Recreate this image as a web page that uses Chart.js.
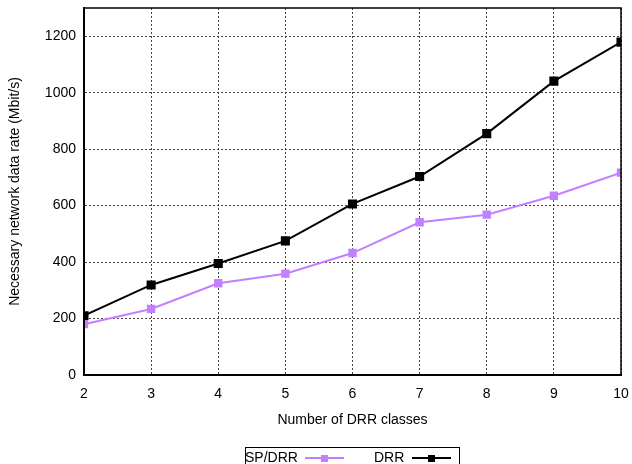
<!DOCTYPE html>
<html>
<head>
<meta charset="utf-8">
<script src="https://cdn.jsdelivr.net/npm/chart.js@4.4.1/dist/chart.umd.min.js"></script>
<style>
  html, body { margin: 0; padding: 0; background: #fff; }
  #wrap { width: 632px; height: 464px; }
</style>
</head>
<body>
<div id="wrap"><canvas id="chart" width="632" height="464"></canvas></div>
<script>
    // number of DRR classes
    const classes = [2, 3, 4, 5, 6, 7, 8, 9, 10];
    const spdrr = [180, 234, 325, 359, 432, 541, 568, 635, 717];
    const drr = [210, 319, 395, 475, 606, 703, 855, 1041, 1179];
    const yTicks = [0, 200, 400, 600, 800, 1000, 1200];
    const seriesNames = ['SP/DRR', 'DRR'];
    const seriesColors = ['#c080ff', '#000000'];

    const FONT = '"Liberation Sans", Arial, sans-serif';

    function pts(vals) {
        return classes.map((c, i) => ({ x: c, y: vals[i] }));
    }

    // plot frame
    const framePlugin = {
        id: 'frame',
        afterDatasetsDraw(chart) {
            const a = chart.chartArea;
            const c = chart.ctx;
            c.save();
            c.strokeStyle = '#000';
            c.lineWidth = 1.5;
            c.strokeRect(a.left, a.top, a.right - a.left, a.bottom - a.top);
            c.lineWidth = 2;
            c.beginPath();
            c.moveTo(a.left, a.top);
            c.lineTo(a.left, a.bottom);
            c.lineTo(a.right, a.bottom);
            c.stroke();
            c.restore();
        }
    };

    // gnuplot style key: text then sample
    const keyPlugin = {
        id: 'key',
        afterDraw(chart) {
            const c = chart.ctx;
            c.save();
            c.strokeStyle = '#000';
            c.lineWidth = 1;
            c.strokeRect(245.5, 447.5, 214, 20);
            c.font = '14px ' + FONT;
            c.textBaseline = 'middle';
            const slots = [{ tx: 245, lx: 305 }, { tx: 374, lx: 412 }];
            chart.data.datasets.forEach((ds, i) => {
                const s = slots[i];
                c.fillStyle = '#000';
                c.textAlign = 'left';
                c.fillText(ds.label, s.tx, 458);
                c.strokeStyle = ds.borderColor;
                c.lineWidth = 2;
                c.beginPath();
                c.moveTo(s.lx, 458);
                c.lineTo(s.lx + 39, 458);
                c.stroke();
                c.fillStyle = ds.borderColor;
                c.fillRect(s.lx + 16, 455, 7, 7);
            });
            c.restore();
        }
    };

    const ctx = document.getElementById('chart');
    let mychart = new Chart(ctx, {
        type: 'line',
        data: {
            datasets: [
                {
                    label: seriesNames[0],
                    data: pts(spdrr),
                    borderColor: seriesColors[0],
                    backgroundColor: seriesColors[0],
                    borderWidth: 2,
                    pointStyle: 'rect',
                    pointRadius: 4.5,
                    tension: 0
                },
                {
                    label: seriesNames[1],
                    data: pts(drr),
                    borderColor: seriesColors[1],
                    backgroundColor: seriesColors[1],
                    borderWidth: 2,
                    pointStyle: 'rect',
                    pointRadius: 5,
                    tension: 0
                }
            ]
        },
        options: {
            responsive: false,
            animation: false,
            layout: { padding: { top: 8, right: 11, left: 0, bottom: 0 } },
            plugins: {
                legend: { display: false },
                tooltip: { enabled: false }
            },
            scales: {
                x: {
                    type: 'linear',
                    min: classes[0],
                    max: classes[classes.length - 1],
                    afterFit(s) {
                        s.height = 89;
                        s.paddingLeft = 0;
                        s.paddingRight = 0;
                    },
                    afterBuildTicks(s) { s.ticks = classes.map(v => ({ value: v })); },
                    ticks: {
                        padding: 11,
                        color: '#000',
                        font: { family: FONT, size: 14 },
                        callback: v => String(v)
                    },
                    grid: { color: '#444', lineWidth: 1, drawTicks: false },
                    border: { display: true, color: '#000', width: 2, dash: [2, 2] },
                    title: {
                        display: true,
                        text: 'Number of DRR classes',
                        color: '#000',
                        font: { family: FONT, size: 14 },
                        padding: { top: 0, bottom: 35 }
                    }
                },
                y: {
                    min: 0,
                    max: 1300,
                    afterFit(s) {
                        s.width = 84;
                        s.paddingTop = 0;
                        s.paddingBottom = 0;
                    },
                    afterBuildTicks(s) { s.ticks = yTicks.map(v => ({ value: v })); },
                    ticks: {
                        padding: 8,
                        color: '#000',
                        font: { family: FONT, size: 14 },
                        callback: v => String(v)
                    },
                    grid: { color: '#444', lineWidth: 1, drawTicks: false },
                    border: { display: true, color: '#000', width: 2, dash: [2, 2] },
                    title: {
                        display: true,
                        text: 'Necessary network data rate (Mbit/s)',
                        color: '#000',
                        font: { family: FONT, size: 14 },
                        padding: { top: 7, bottom: 0 }
                    }
                }
            }
        },
        plugins: [framePlugin, keyPlugin]
    });
</script>
</body>
</html>
